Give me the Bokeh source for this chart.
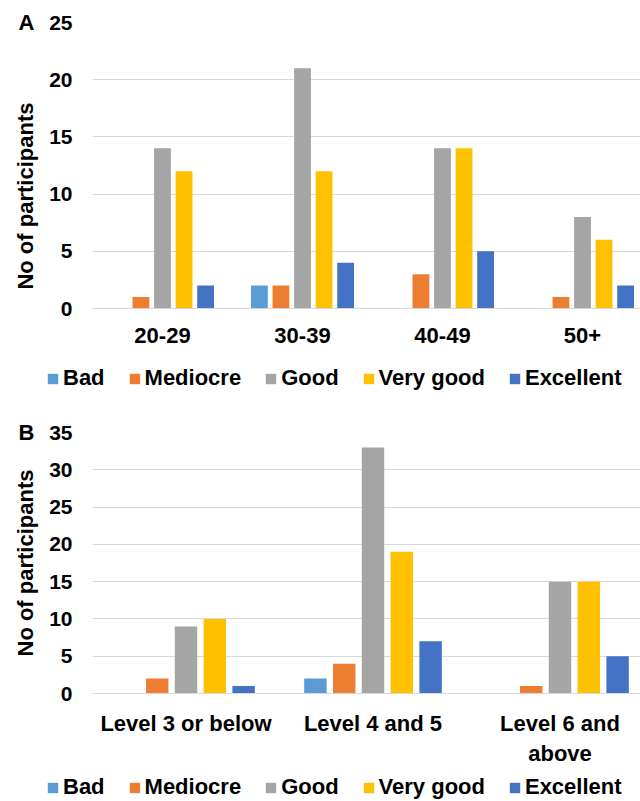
import numpy as np
from bokeh.plotting import figure
from bokeh.models import (Range1d, FixedTicker, ColumnDataSource, Legend,
                          LegendItem, LinearAxis)
from bokeh.layouts import column
from bokeh.embed import file_html
from bokeh.resources import INLINE

ratings = ["Bad", "Mediocre", "Good", "Very good", "Excellent"]
colors = ["#5B9BD5", "#ED7D31", "#A5A5A5", "#FFC000", "#4472C4"]

age_groups = ["20-29", "30-39", "40-49", "50+"]
age_bad = [0, 2, 0, 0]
age_mediocre = [1, 2, 3, 1]
age_good = [14, 21, 14, 8]
age_very_good = [12, 12, 14, 6]
age_excellent = [2, 4, 5, 2]
age_ticks = [0, 5, 10, 15, 20, 25]

edu_levels = ["Level 3 or below", "Level 4 and 5", "Level 6 and\nabove"]
edu_bad = [0, 2, 0]
edu_mediocre = [2, 4, 1]
edu_good = [9, 33, 15]
edu_very_good = [10, 19, 15]
edu_excellent = [1, 7, 5]
edu_ticks = [0, 5, 10, 15, 20, 25, 30, 35]

FONT = "Liberation Sans"
GRID = "#D9D9D9"
W = 640
LEFT = 92


def make_panel(categories, series, yticks, letter, x_end, top_border,
               frame_h, bottom_border, ylabel, cat_standoff):
    ymax = yticks[-1]
    p = figure(width=W, height=top_border + frame_h + bottom_border,
               x_range=Range1d(0, x_end), y_range=Range1d(0, ymax),
               output_backend="svg", toolbar_location=None,
               min_border_left=LEFT, min_border_right=0,
               min_border_top=top_border, min_border_bottom=bottom_border)
    p.outline_line_color = None
    p.background_fill_color = "white"
    p.border_fill_color = "white"

    xs = np.arange(len(categories)) + 0.5
    step = 0.154
    bar_w = 0.12
    for i, (vals, col) in enumerate(zip(series, colors)):
        src = ColumnDataSource(dict(x=xs + (i - 2) * step, top=vals))
        p.vbar(x="x", top="top", width=bar_w, source=src,
               fill_color=col, line_color=None)

    yax = p.yaxis[0]
    yax.ticker = FixedTicker(ticks=yticks)
    yax.axis_line_color = None
    yax.major_tick_line_color = None
    yax.minor_tick_line_color = None
    yax.major_tick_out = 0
    yax.major_tick_in = 0
    yax.major_label_standoff = 20
    yax.major_label_text_font = FONT
    yax.major_label_text_font_style = "bold"
    yax.major_label_text_font_size = "21px"
    yax.major_label_text_color = "black"

    # outer axis carrying the panel letter and the axis title
    outer = LinearAxis(ticker=FixedTicker(ticks=[ymax]),
                       major_label_overrides={ymax: letter},
                       axis_line_color=None, major_tick_line_color=None,
                       minor_tick_line_color=None, major_tick_out=0,
                       major_tick_in=0, major_label_standoff=12,
                       major_label_text_font=FONT,
                       major_label_text_font_style="bold",
                       major_label_text_font_size="22px",
                       major_label_text_color="black",
                       axis_label=ylabel, axis_label_standoff=-22,
                       axis_label_text_font=FONT,
                       axis_label_text_font_style="bold",
                       axis_label_text_font_size="22px",
                       axis_label_text_color="black")
    p.add_layout(outer, "left")

    xax = p.xaxis[0]
    xax.ticker = FixedTicker(ticks=list(xs))
    xax.major_label_overrides = {float(x): c for x, c in zip(xs, categories)}
    xax.axis_line_color = GRID
    xax.axis_line_width = 1
    xax.major_tick_line_color = None
    xax.minor_tick_line_color = None
    xax.major_tick_out = 0
    xax.major_tick_in = 0
    xax.major_label_standoff = cat_standoff
    xax.major_label_text_font = FONT
    xax.major_label_text_font_style = "bold"
    xax.major_label_text_font_size = "22px"
    xax.major_label_text_color = "black"

    p.xgrid.grid_line_color = None
    p.ygrid[0].ticker = FixedTicker(ticks=yticks)
    p.ygrid.grid_line_color = GRID
    p.ygrid.grid_line_width = 1
    return p


def make_legend_strip(height):
    s = figure(width=W, height=height, x_range=Range1d(0, 1),
               y_range=Range1d(0, 1), x_axis_location=None,
               y_axis_location=None, output_backend="svg",
               toolbar_location=None, min_border=0)
    s.outline_line_color = None
    for g in s.grid:
        g.visible = False
    if "frame_align" in s.properties():
        s.frame_align = False
        leg_margin = 46
    else:
        leg_margin = 46 - LEFT
    items = []
    for name, col in zip(ratings, colors):
        key = ColumnDataSource(dict(x=[0.0], top=[0.0]))
        r = s.vbar(x="x", top="top", width=0.01, source=key,
                   fill_color=col, line_color=None)
        items.append(LegendItem(label=name, renderers=[r]))
    leg = Legend(items=items, orientation="horizontal", location="center_left",
                 glyph_width=13, glyph_height=13, label_standoff=4,
                 spacing=23, padding=0, margin=leg_margin,
                 border_line_color=None, background_fill_alpha=0,
                 label_text_font=FONT, label_text_font_style="bold",
                 label_text_font_size="22px", label_text_color="black")
    s.add_layout(leg, "center")
    return s


pad = "\u00a0" * 10
pA = make_panel(age_groups,
                [age_bad, age_mediocre, age_good, age_very_good, age_excellent],
                age_ticks, "A", 548 / 140, 22, 286, 52,
                "No of participants" + pad, 19)
legA = make_legend_strip(36)
pB = make_panel(edu_levels,
                [edu_bad, edu_mediocre, edu_good, edu_very_good, edu_excellent],
                edu_ticks, "B", 548 / 187, 36, 261, 80,
                "No of participants", 17)
legB = make_legend_strip(28)

layout = column(pA, legA, pB, legB, spacing=0)
open("out.html", "w").write(file_html(layout, INLINE))
